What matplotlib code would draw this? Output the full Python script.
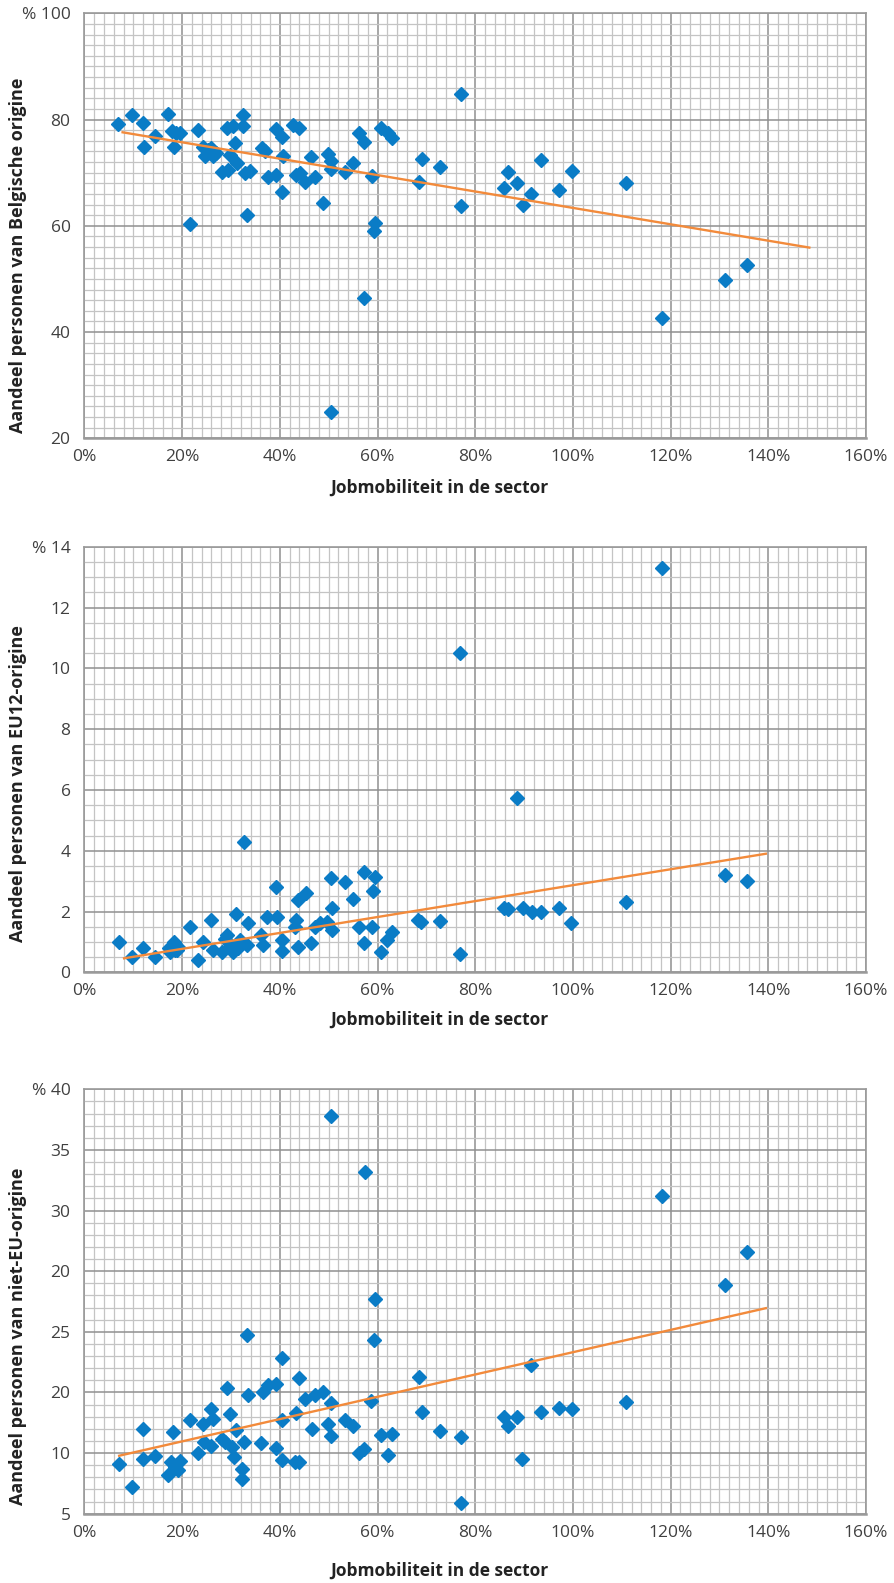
import numpy as np
import matplotlib
matplotlib.use("Agg")
import matplotlib.pyplot as plt
from matplotlib.ticker import MultipleLocator, FixedLocator, FixedFormatter

plt.rcParams['font.family'] = ['Open Sans', 'DejaVu Sans']

# --- data (x = jobmobiliteit in %, y = share in %) ---
x_be = [6.9, 9.7, 12.0, 12.2, 14.4, 17.0, 17.9, 18.7, 19.5, 18.3, 23.3, 24.2, 24.6, 25.3,
        26.0, 26.4, 27.0, 21.6, 28.1, 29.4, 29.1, 30.5, 32.4, 32.5, 30.8, 29.8, 31.2, 32.9,
        33.9, 33.2, 36.3, 36.9, 37.6, 39.3, 39.2, 40.4, 40.6, 40.4, 42.7, 43.9, 43.4, 44.1,
        45.1, 46.3, 47.2, 48.8, 49.9, 50.5, 50.5, 50.5, 53.3, 55.0, 56.3, 57.3, 57.3, 58.8,
        59.5, 59.3, 60.8, 62.2, 62.9, 68.5, 69.0, 72.8, 77.0, 77.1, 85.9, 86.8, 88.5, 89.7,
        91.4, 93.4, 97.1, 99.8, 110.9, 118.2, 131.2, 135.7]
y_be = [79.1, 80.8, 79.4, 74.9, 76.9, 81.0, 77.8, 77.5, 77.4, 74.9, 78.0, 74.9, 73.1, 74.2,
        74.6, 73.1, 73.7, 60.3, 70.2, 70.5, 78.4, 78.8, 80.9, 78.8, 75.5, 73.3, 71.8, 69.9,
        70.4, 62.0, 74.6, 74.0, 69.2, 69.6, 78.2, 76.8, 73.1, 66.4, 79.0, 78.4, 69.6, 69.9,
        68.3, 73.0, 69.2, 64.2, 73.5, 72.2, 70.7, 25.0, 70.2, 71.8, 77.5, 75.8, 46.5, 69.4,
        60.6, 59.1, 78.4, 77.4, 76.5, 68.3, 72.5, 71.1, 84.8, 63.8, 67.1, 70.2, 68.0, 64.0,
        66.0, 72.4, 66.7, 70.3, 68.0, 42.6, 49.8, 52.7]
trend_be_x = [7.8, 148.4]
trend_be_y = [77.6, 55.9]

x_eu = [7.1, 9.7, 12.0, 14.4, 17.2, 18.3, 18.5, 19.2, 17.5, 17.8, 18.9, 21.6, 23.3, 24.3,
        26.0, 26.4, 28.1, 28.8, 29.1, 30.0, 30.5, 31.1, 31.5, 31.8, 32.6, 33.5, 33.2, 36.1,
        36.6, 37.3, 39.3, 39.4, 40.4, 40.4, 43.3, 43.1, 43.8, 43.8, 45.3, 46.4, 47.2, 48.2,
        50.5, 50.6, 50.7, 49.6, 53.3, 55.0, 56.3, 57.2, 57.3, 58.8, 59.1, 59.5, 60.8, 62.0,
        62.9, 68.3, 68.8, 72.7, 76.9, 76.9, 85.9, 86.8, 88.5, 89.7, 91.6, 93.4, 97.2, 99.7,
        110.9, 118.2, 131.2, 135.7]
y_eu = [1.0, 0.51, 0.81, 0.51, 0.79, 1.0, 0.73, 0.84, 0.68, 0.72, 0.75, 1.5, 0.40, 1.0,
        1.72, 0.73, 0.68, 1.1, 1.23, 0.85, 0.68, 1.92, 0.8, 1.06, 4.27, 1.61, 0.9, 1.23,
        0.9, 1.81, 2.79, 1.81, 1.06, 0.71, 1.72, 1.5, 0.82, 2.38, 2.62, 0.98, 1.5, 1.61,
        3.09, 2.1, 1.39, 1.66, 2.98, 2.4, 1.5, 3.31, 0.98, 1.5, 2.68, 3.12, 0.68, 1.06,
        1.34, 1.72, 1.66, 1.70, 10.5, 0.60, 2.10, 2.07, 5.73, 2.10, 2.0, 2.0, 2.10, 1.61,
        2.3, 13.3, 3.2, 3.0]
trend_eu_x = [8.1, 139.5]
trend_eu_y = [0.46, 3.9]

x_neu = [7.1, 9.8, 12.05, 12.05, 14.4, 17.0, 18.2, 17.8, 18.5, 19.1, 19.5, 21.7, 23.3, 24.2,
         26.0, 26.4, 24.5, 26.0, 28.1, 29.2, 29.7, 28.8, 30.1, 31.1, 30.7, 32.2, 32.2, 32.7,
         33.2, 33.5, 36.1, 36.6, 37.5, 39.3, 39.3, 40.4, 40.4, 40.5, 43.0, 43.9, 43.3, 43.9,
         45.2, 46.5, 47.2, 48.9, 50.5, 49.9, 50.4, 50.4, 53.3, 55.0, 56.3, 57.3, 57.4, 58.7,
         59.4, 59.2, 60.7, 62.2, 62.9, 68.4, 69.0, 72.8, 77.1, 77.1, 85.9, 86.7, 88.5, 89.6,
         91.4, 93.4, 97.1, 99.9, 110.9, 118.2, 131.2, 135.7]
y_neu = [9.12, 7.2, 12.0, 9.54, 9.73, 8.16, 11.73, 9.26, 8.85, 8.57, 9.34, 12.7, 10.0, 12.4,
         13.6, 12.8, 10.9, 10.6, 11.2, 15.4, 13.2, 10.9, 10.5, 11.9, 9.67, 8.7, 7.9, 10.9,
         19.7, 14.8, 10.85, 15.0, 15.6, 15.7, 10.4, 17.8, 12.7, 9.4, 9.3, 9.3, 13.3, 16.2,
         14.5, 12.0, 14.8, 15.0, 14.1, 12.4, 11.4, 37.8, 12.7, 12.2, 10.0, 10.3, 33.15, 14.3,
         22.7, 19.35, 11.5, 9.8, 11.6, 16.3, 13.4, 11.8, 11.3, 5.9, 13.0, 12.2, 13.0, 9.5,
         17.3, 13.4, 13.7, 13.6, 14.2, 31.2, 23.9, 26.6]
trend_neu_x = [7.1, 139.5]
trend_neu_y = [9.78, 21.95]

x_ticklabels = ['0%', '20%', '40%', '60%', '80%', '100%', '120%', '140%', '160%']
be_ticklabels = ['20', '40', '60', '80', '% 100']
eu_ticklabels = ['0', '2', '4', '6', '8', '10', '12', '% 14']
neu_ticklabels = ['5', '10', '20', '25', '20', '30', '35', '% 40']

xlabel = 'Jobmobiliteit in de sector'
ylabels = ['Aandeel personen van Belgische origine',
           'Aandeel personen van EU12-origine',
           'Aandeel personen van niet-EU-origine']

BLUE = '#0a7cc6'
ORANGE = '#f28a3b'
TXT = '#404040'

W, H = 895, 1583
fig = plt.figure(figsize=(W / 100, H / 100), dpi=100)


def px_axes(left, top, right, bottom):
    return [left / W, 1 - bottom / H, (right - left) / W, (bottom - top) / H]


def panel(rect, x, y, tx, ty, ymin, ymax, major, minor, ylabs):
    ax = fig.add_axes(rect)
    ax.set_xlim(0, 160)
    ax.set_ylim(ymin, ymax)
    ax.xaxis.set_major_locator(FixedLocator(np.arange(0, 161, 20)))
    ax.xaxis.set_major_formatter(FixedFormatter(x_ticklabels))
    ax.xaxis.set_minor_locator(MultipleLocator(2))
    yt = np.arange(ymin, ymax + 0.001, major)
    ax.yaxis.set_major_locator(FixedLocator(yt))
    ax.yaxis.set_major_formatter(FixedFormatter(ylabs))
    ax.yaxis.set_minor_locator(MultipleLocator(minor))
    ax.grid(which='minor', color='#c4c4c4', lw=0.9)
    ax.grid(which='major', color='#909090', lw=1.1)
    ax.set_axisbelow(True)
    for s in ax.spines.values():
        s.set_color('#9a9a9a')
        s.set_linewidth(1.2)
    ax.spines['bottom'].set_linewidth(1.8)
    ax.tick_params(which='both', length=0)
    ax.tick_params(axis='x', pad=8, labelsize=12.5, labelcolor=TXT)
    ax.tick_params(axis='y', pad=10, labelsize=12.5, labelcolor=TXT)
    ax.plot(x, y, ls='none', marker='D', ms=7.4, color=BLUE, mec=BLUE, zorder=3,
            clip_on=False)
    ax.plot(tx, ty, color=ORANGE, lw=1.7, zorder=4)
    return ax


panel(px_axes(84.5, 13.3, 866, 438.3), x_be, y_be, trend_be_x, trend_be_y,
      20, 100, 20, 2, be_ticklabels)
panel(px_axes(84.5, 546.7, 866, 972.3), x_eu, y_eu, trend_eu_x, trend_eu_y,
      0, 14, 2, 0.5, eu_ticklabels)
panel(px_axes(84.5, 1089.3, 866, 1513.7), x_neu, y_neu, trend_neu_x, trend_neu_y,
      5, 40, 5, 1, neu_ticklabels)

# axis titles placed like in the original report layout
for yc, lab in zip([255, 784, 1336], ylabels):
    fig.text(18 / W, 1 - yc / H, lab, rotation=90, ha='center', va='center',
             fontsize=13, fontweight='bold', color='#222222')
for yc in [488, 1019.5, 1571]:
    fig.text(439 / W, 1 - yc / H, xlabel, ha='center', va='center',
             fontsize=12.5, fontweight='bold', color='#222222')

fig.savefig('out.png', dpi=100)
